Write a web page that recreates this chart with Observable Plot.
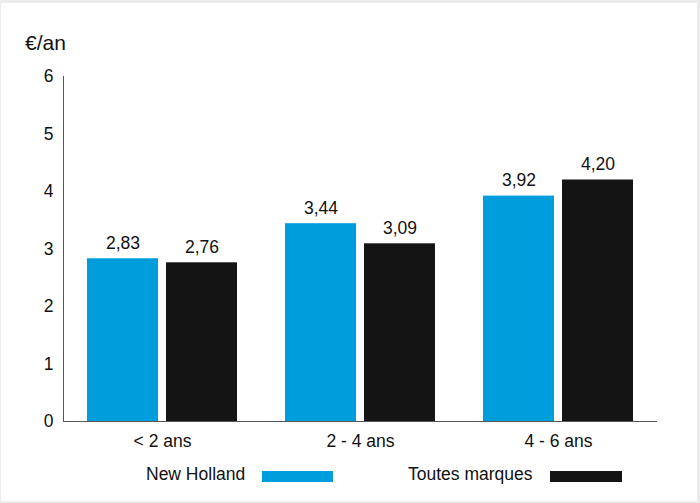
<!DOCTYPE html>
<html>
<head>
<meta charset="utf-8">
<script src="https://cdn.jsdelivr.net/npm/d3@7"></script>
<script src="https://cdn.jsdelivr.net/npm/@observablehq/plot@0.6"></script>
<style>
  html, body { margin: 0; padding: 0; background: #ececec; }
  #outer { position: relative; width: 700px; height: 503px; background: #ececec; overflow: hidden; }
  #inner { position: absolute; left: 1px; top: 3px; width: 696px; height: 498px; background: #fff;
           font-family: "Liberation Sans", Arial, Helvetica, sans-serif; color: #111; }
  .t { position: absolute; white-space: nowrap; }
  .sw { position: absolute; }
</style>
</head>
<body>
<div id="outer"><div id="inner">
  <div id="ylab" class="t" style="left:24px; top:29px; font-size:21px; line-height:21px;">€/an</div>
  <div id="chart" style="position:absolute; left:0; top:0;"></div>
  <div id="legend"></div>
</div></div>
<script>
const ageGroups = ["< 2 ans", "2 - 4 ans", "4 - 6 ans"];
const series = ["New Holland", "Toutes marques"];
const newHolland = [2.83, 3.44, 3.92];
const toutesMarques = [2.76, 3.09, 4.20];
const yTicks = [0, 1, 2, 3, 4, 5, 6];
const colors = ["#009ddc", "#141414"];
const yUnit = "€/an";

const data = [];
ageGroups.forEach((g, i) => {
  data.push({age: g, serie: series[0], value: newHolland[i]});
  data.push({age: g, serie: series[1], value: toutesMarques[i]});
});
const fmt = v => v.toFixed(2).replace(".", ",");

document.getElementById("ylab").textContent = yUnit;

const chart = Plot.plot({
  width: 696,
  height: 452,
  marginLeft: 61,
  marginRight: 40,
  marginTop: 73,
  marginBottom: 34,
  style: {fontFamily: '"Liberation Sans", Arial, sans-serif', fontSize: "17.5px", color: "#111", background: "transparent"},
  fx: {domain: ageGroups, padding: 0, label: null},
  x: {domain: series, paddingInner: 0.1, paddingOuter: 0.3, axis: null},
  y: {domain: [0, 6], label: null},
  color: {domain: series, range: colors},
  marks: [
    Plot.barY(data, {fx: "age", x: "serie", y: "value", fill: "serie"}),
    Plot.text(data, {fx: "age", x: "serie", y: "value", text: d => fmt(d.value), dy: -10, lineAnchor: "bottom", fill: "#111"}),
    Plot.ruleY([0], {stroke: "#555", strokeWidth: 1}),
    Plot.frame({anchor: "left", facetAnchor: "left", stroke: "#555"}),
    Plot.axisY({ticks: yTicks, tickSize: 0, tickPadding: 10, tickFormat: d => String(d), label: null, fill: "#111"}),
    Plot.axisFx({anchor: "bottom", tickSize: 0, tickPadding: 13, label: null, fill: "#111"})
  ]
});
document.getElementById("chart").appendChild(chart);

// legend
const legend = document.getElementById("legend");
const legendItems = [
  {label: series[0], color: colors[0], textLeft: 145, swLeft: 261, swWidth: 71},
  {label: series[1], color: colors[1], textLeft: 407, swLeft: 549, swWidth: 72}
];
legendItems.forEach(it => {
  const t = document.createElement("div");
  t.className = "t";
  t.style.cssText = `left:${it.textLeft}px; top:463px; font-size:17.5px; line-height:17.5px;`;
  t.textContent = it.label;
  legend.appendChild(t);
  const s = document.createElement("div");
  s.className = "sw";
  s.style.cssText = `left:${it.swLeft}px; top:468px; width:${it.swWidth}px; height:11px; background:${it.color};`;
  legend.appendChild(s);
});
</script>
</body>
</html>
